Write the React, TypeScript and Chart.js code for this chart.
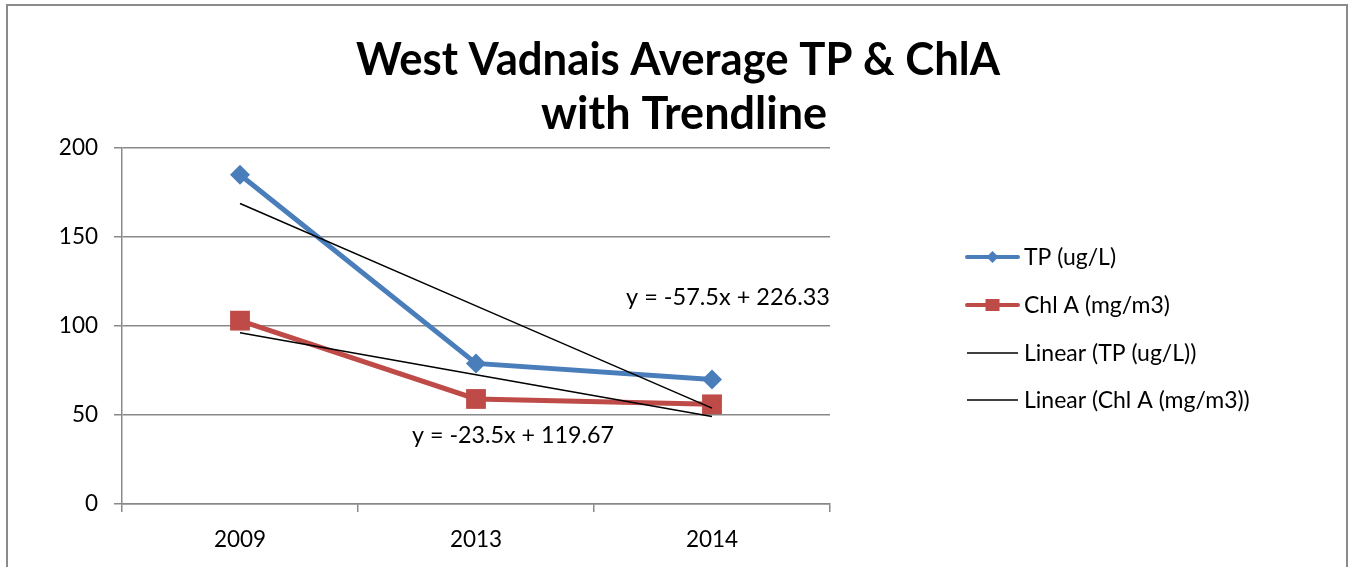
import React, { useEffect, useRef } from 'react';
import { Chart, registerables } from 'chart.js';

Chart.register(...registerables);

const categories = ['2009', '2013', '2014'];
const tpValues = [185, 79, 70];
const chlValues = [103, 59, 56];
const tpTrend = [168.83, 111.33, 53.83];
const chlTrend = [96.17, 72.67, 49.17];
const yMin = 0;
const yMax = 200;
const yStep = 50;
const titleLines = ['West Vadnais Average TP & ChlA', 'with Trendline'];
const tpEquation = 'y = -57.5x + 226.33';
const chlEquation = 'y = -23.5x + 119.67';
const seriesLabels = ['TP (ug/L)', 'Chl A (mg/m3)', 'Linear (TP (ug/L))', 'Linear (Chl A (mg/m3))'];

const BLUE = '#4A7EBB';
const RED = '#BE4B48';
const GRID = '#898989';
const FONT = 'Lato, "Open Sans", sans-serif';

const decorPlugin = {
  id: 'decor',
  afterDraw(chart: any) {
    const ctx = chart.ctx as CanvasRenderingContext2D;
    const area = chart.chartArea;
    ctx.save();
    // outer frame
    ctx.strokeStyle = '#8a8a8a';
    ctx.lineWidth = 2;
    ctx.strokeRect(7, 5, 1340, 600);

    // title
    ctx.fillStyle = '#000';
    ctx.textAlign = 'center';
    ctx.textBaseline = 'alphabetic';
    ctx.font = `bold 45px ${FONT}`;
    ctx.fillText(titleLines[0], 678, 75, 644);
    ctx.fillText(titleLines[1], 684, 129, 288);

    // equations
    ctx.font = `23.5px ${FONT}`;
    ctx.textBaseline = 'middle';
    ctx.textAlign = 'right';
    ctx.fillText(tpEquation, area.right, 297, 204);
    ctx.textAlign = 'left';
    ctx.fillText(chlEquation, 412, 435, 202);

    // legend
    const lx0 = 965;
    const lx1 = 1020;
    const ys = [257, 305, 353, 400];
    const mid = (lx0 + lx1) / 2;
    // TP
    ctx.strokeStyle = BLUE;
    ctx.lineWidth = 4;
    ctx.lineCap = 'round';
    ctx.beginPath();
    ctx.moveTo(lx0 + 2, ys[0]);
    ctx.lineTo(lx1 - 2, ys[0]);
    ctx.stroke();
    ctx.fillStyle = BLUE;
    ctx.beginPath();
    ctx.moveTo(mid, ys[0] - 6);
    ctx.lineTo(mid + 6, ys[0]);
    ctx.lineTo(mid, ys[0] + 6);
    ctx.lineTo(mid - 6, ys[0]);
    ctx.closePath();
    ctx.fill();
    // Chl
    ctx.strokeStyle = RED;
    ctx.beginPath();
    ctx.moveTo(lx0 + 2, ys[1]);
    ctx.lineTo(lx1 - 2, ys[1]);
    ctx.stroke();
    ctx.fillStyle = RED;
    ctx.fillRect(mid - 7, ys[1] - 6, 14, 12);
    // linear
    ctx.lineCap = 'butt';
    ctx.strokeStyle = '#000';
    ctx.lineWidth = 1.5;
    for (const i of [2, 3]) {
      ctx.beginPath();
      ctx.moveTo(lx0 + 2, ys[i]);
      ctx.lineTo(lx1 - 2, ys[i]);
      ctx.stroke();
    }
    ctx.fillStyle = '#000';
    ctx.textAlign = 'left';
    ctx.textBaseline = 'middle';
    ctx.font = `23px ${FONT}`;
    seriesLabels.forEach((t, i) => ctx.fillText(t, 1024, ys[i] + 1));
    ctx.restore();
  },
};

export default function App() {
  const ref = useRef<HTMLCanvasElement | null>(null);
  useEffect(() => {
    if (!ref.current) return;
    const chart = new Chart(ref.current, {
      type: 'line',
      data: {
        labels: categories,
        datasets: [
          {
            label: seriesLabels[0],
            data: tpValues,
            borderColor: BLUE,
            backgroundColor: BLUE,
            borderWidth: 5,
            pointStyle: 'rectRot',
            pointRadius: 10,
            pointBorderWidth: 0,
            pointBackgroundColor: BLUE,
            order: 2,
          },
          {
            label: seriesLabels[1],
            data: chlValues,
            borderColor: RED,
            backgroundColor: RED,
            borderWidth: 5,
            pointStyle: 'rect',
            pointRadius: 14,
            pointBorderWidth: 0,
            pointBackgroundColor: RED,
            order: 3,
          },
          {
            label: seriesLabels[2],
            data: tpTrend,
            borderColor: '#000',
            borderWidth: 1.5,
            pointRadius: 0,
            order: 0,
          },
          {
            label: seriesLabels[3],
            data: chlTrend,
            borderColor: '#000',
            borderWidth: 1.5,
            pointRadius: 0,
            order: 1,
          },
        ],
      },
      options: {
        animation: false,
        responsive: false,
        devicePixelRatio: 1,
        layout: { padding: { top: 148, right: 522, left: 0, bottom: 0 } },
        plugins: {
          legend: { display: false },
          title: { display: false },
          tooltip: { enabled: false },
        },
        scales: {
          x: {
            type: 'category',
            offset: true,
            grid: {
              offset: true,
              drawOnChartArea: false,
              drawTicks: true,
              tickLength: 8,
              color: GRID,
              lineWidth: 1.5,
            },
            border: { display: true, color: GRID, width: 1.5 },
            ticks: { color: '#000', font: { family: FONT, size: 22.5 }, padding: 14 },
            afterFit: (s: any) => {
              s.height = 63;
            },
          },
          y: {
            min: yMin,
            max: yMax,
            ticks: {
              stepSize: yStep,
              color: '#000',
              font: { family: FONT, size: 22.5 },
              padding: 16,
            },
            grid: { color: GRID, lineWidth: 1.5, tickLength: 8, drawTicks: true },
            border: { display: true, color: GRID, width: 1.5 },
            afterFit: (s: any) => {
              s.width = 122;
            },
          },
        },
      },
      plugins: [decorPlugin],
    });
    return () => chart.destroy();
  }, []);
  return (
    <div style={{ position: 'fixed', left: 0, top: 0, width: 1352, height: 567, background: '#fff' }}>
      <canvas ref={ref} width={1352} height={567} style={{ display: 'block', width: 1352, height: 567 }} />
    </div>
  );
}
